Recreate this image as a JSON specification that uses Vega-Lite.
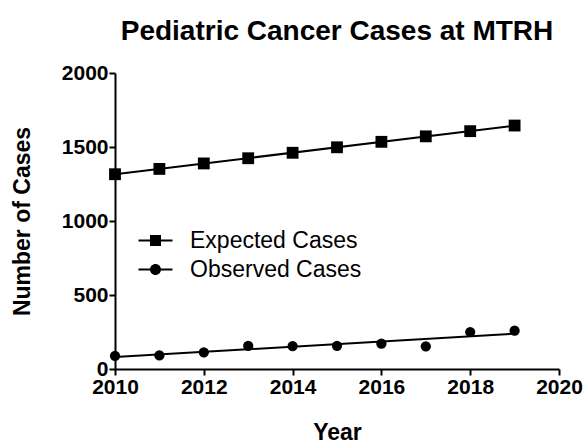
{
  "$schema": "https://vega.github.io/schema/vega-lite/v6.json",
  "width": 444,
  "height": 296,
  "autosize": "none",
  "padding": {"left": 115, "top": 73, "right": 26, "bottom": 75},
  "background": "white",
  "config": {
    "view": {"stroke": null},
    "font": "Liberation Sans",
    "axis": {"grid": false, "domainColor": "black", "domainWidth": 2, "tickColor": "black", "tickWidth": 2, "tickSize": 6,
      "labelFont": "Liberation Sans", "labelFontWeight": "bold", "labelFontSize": 21, "labelColor": "black",
      "titleFont": "Liberation Sans", "titleFontWeight": "bold", "titleFontSize": 23, "titleColor": "black"}
  },
  "title": {"text": "Pediatric Cancer Cases at MTRH", "font": "Liberation Sans", "fontSize": 28, "fontWeight": "bold", "color": "black", "anchor": "middle", "offset": 16},
  "data": {"values": [
    {"Year": 2010, "Cases": 1316, "Series": "Expected Cases"},
    {"Year": 2011, "Cases": 1352, "Series": "Expected Cases"},
    {"Year": 2012, "Cases": 1389, "Series": "Expected Cases"},
    {"Year": 2013, "Cases": 1424, "Series": "Expected Cases"},
    {"Year": 2014, "Cases": 1461, "Series": "Expected Cases"},
    {"Year": 2015, "Cases": 1498, "Series": "Expected Cases"},
    {"Year": 2016, "Cases": 1535, "Series": "Expected Cases"},
    {"Year": 2017, "Cases": 1572, "Series": "Expected Cases"},
    {"Year": 2018, "Cases": 1607, "Series": "Expected Cases"},
    {"Year": 2019, "Cases": 1645, "Series": "Expected Cases"},
    {"Year": 2010, "Cases": 88, "Series": "Observed Cases"},
    {"Year": 2011, "Cases": 92, "Series": "Observed Cases"},
    {"Year": 2012, "Cases": 113, "Series": "Observed Cases"},
    {"Year": 2013, "Cases": 157, "Series": "Observed Cases"},
    {"Year": 2014, "Cases": 155, "Series": "Observed Cases"},
    {"Year": 2015, "Cases": 157, "Series": "Observed Cases"},
    {"Year": 2016, "Cases": 171, "Series": "Observed Cases"},
    {"Year": 2017, "Cases": 153, "Series": "Observed Cases"},
    {"Year": 2018, "Cases": 250, "Series": "Observed Cases"},
    {"Year": 2019, "Cases": 259, "Series": "Observed Cases"}
  ]},
  "encoding": {
    "x": {"field": "Year", "type": "quantitative", "scale": {"domain": [2010, 2020], "nice": false, "zero": false},
      "axis": {"values": [2010, 2012, 2014, 2016, 2018, 2020], "format": "d", "title": "Year", "labelPadding": 1, "titlePadding": 24, "labelFlush": false, "labelOverlap": false}},
    "y": {"field": "Cases", "type": "quantitative", "scale": {"domain": [0, 2000], "nice": false},
      "axis": {"values": [0, 500, 1000, 1500, 2000], "format": "d", "title": "Number of Cases", "labelPadding": 1, "titlePadding": 27, "labelOverlap": false}}
  },
  "layer": [
    {
      "transform": [{"regression": "Cases", "on": "Year", "groupby": ["Series"], "extent": [2010, 2019]}],
      "mark": {"type": "line", "color": "black", "strokeWidth": 2},
      "encoding": {"detail": {"field": "Series"}}
    },
    {
      "mark": {"type": "point", "filled": true, "color": "black", "opacity": 1},
      "encoding": {
        "shape": {"field": "Series", "type": "nominal",
          "scale": {"domain": ["Expected Cases", "Observed Cases"], "range": ["square", "circle"]}, "legend": null},
        "size": {"field": "Series", "type": "nominal",
          "scale": {"domain": ["Expected Cases", "Observed Cases"], "range": [140, 105]}, "legend": null}
      }
    },
    {
      "transform": [{"filter": "datum.Year < 0"}],
      "mark": {"type": "point", "filled": true, "color": "black", "opacity": 1},
      "encoding": {
        "shape": {"field": "Series", "type": "nominal",
          "scale": {"domain": ["Expected Cases", "Observed Cases"],
            "range": ["M-1.7,-0.1H1.7V0.1H-1.7ZM-0.55,-0.55H0.55V0.55H-0.55Z", "M-1.7,-0.1H1.7V0.1H-1.7ZM0.55,0A0.55,0.55 0 1,1 -0.55,0A0.55,0.55 0 1,1 0.55,0Z"]},
          "legend": {"title": null, "orient": "none", "legendX": 29, "legendY": 156, "labelFont": "Liberation Sans", "labelFontSize": 23, "labelColor": "black", "labelOffset": 23, "labelLimit": 400, "rowPadding": 5, "symbolSize": 400,
            "symbolFillColor": "black", "symbolOpacity": 1}}
      }
    }
  ],
  "resolve": {"scale": {"shape": "independent", "size": "independent"}, "legend": {"shape": "independent"}}
}
